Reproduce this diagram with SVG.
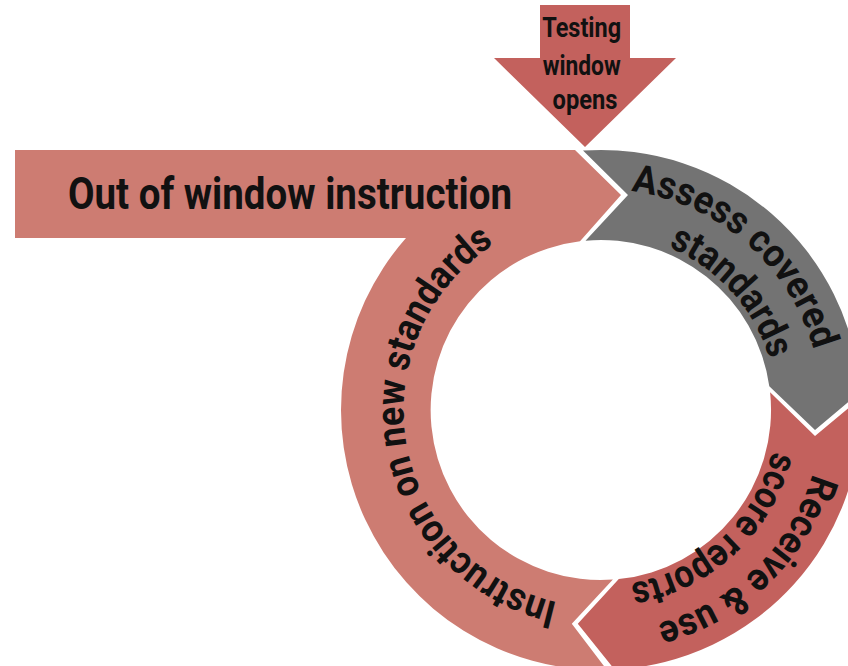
<svg xmlns="http://www.w3.org/2000/svg" xmlns:xlink="http://www.w3.org/1999/xlink" width="848" height="666" viewBox="0 0 848 666">
<style>
.pink{fill:#cd7c72}
.red{fill:#c3615d}
.gray{fill:#737373}
.lbl{font-family:Roboto,"Liberation Sans",sans-serif;font-weight:bold;fill:#111}
.ring{font-size:39px}
</style>
<defs>
<path id="g1" d="M529.0,201.0 A221,221 0 0 1 817.9,452.2"/>
<path id="g2" d="M563.6,237.9 A176,176 0 0 1 768.4,464.4"/>
<path id="r1" d="M815.4,356.5 A221,221 0 0 1 540.1,622.4"/>
<path id="r2" d="M772.5,370.4 A176,176 0 0 1 549.5,578.3"/>
<path id="i1" d="M618.2,606.3 A197,197 0 0 1 550.0,219.7"/>
</defs>
<rect width="848" height="666" fill="#fff"/>
<g id="connectors"></g>
<g id="instruction">
<path class="pink" d="M15,150 L575,150 L621,195 L580,241.3 A170,170 0 0 0 612.9,579.6 L571.8,623.7 L606.9,669.9 A260,260 0 0 1 406,238 L15,238 Z"/>
<text class="lbl" x="68" y="209" font-size="44" textLength="444" lengthAdjust="spacingAndGlyphs">Out of window instruction</text>
<text class="lbl ring"><textPath xlink:href="#i1" href="#i1" startOffset="50%" text-anchor="middle" textLength="463" lengthAdjust="spacingAndGlyphs">Instruction on new standards</textPath></text>
</g>
<g id="assess">
<path class="gray" d="M583,150.6 A260,260 0 0 1 860.4,391.9 L815,430 L769.3,386.3 A170,170 0 0 0 585.5,240.7 L628,195 Z"/>
<text class="lbl ring"><textPath xlink:href="#g1" href="#g1" startOffset="50%" text-anchor="middle" textLength="256" lengthAdjust="spacingAndGlyphs">Assess covered</textPath></text>
<text class="lbl ring"><textPath xlink:href="#g2" href="#g2" startOffset="50%" text-anchor="middle" textLength="156" lengthAdjust="spacingAndGlyphs">standards</textPath></text>
</g>
<g id="receive">
<path class="red" d="M770.1,392.2 L815,436 L860.7,397.8 A260,260 0 0 1 614.6,669.6 L577.8,623.7 L618.8,579.1 A170,170 0 0 0 770.1,392.2 Z"/>
<text class="lbl ring"><textPath xlink:href="#r1" href="#r1" startOffset="50%" text-anchor="middle" textLength="226" lengthAdjust="spacingAndGlyphs">Receive &amp; use</textPath></text>
<text class="lbl ring"><textPath xlink:href="#r2" href="#r2" startOffset="50%" text-anchor="middle" textLength="206" lengthAdjust="spacingAndGlyphs">score reports</textPath></text>
</g>
<g id="testing-window">
<polygon class="red" points="540,5 630,5 630,58 676,58 585,147 494,58 540,58"/>
<text class="lbl" font-size="27" text-anchor="middle">
<tspan x="585" y="37" textLength="79" lengthAdjust="spacingAndGlyphs">Testing</tspan>
<tspan x="585" y="75" textLength="78" lengthAdjust="spacingAndGlyphs">window</tspan>
<tspan x="585" y="109" textLength="65" lengthAdjust="spacingAndGlyphs">opens</tspan>
</text>
</g>
</svg>
